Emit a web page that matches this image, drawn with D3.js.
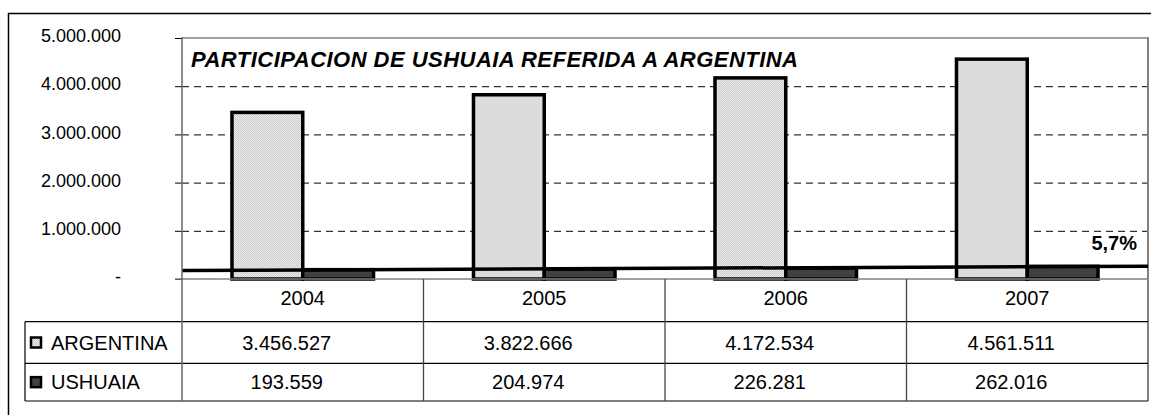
<!DOCTYPE html>
<html>
<head>
<meta charset="utf-8">
<script src="https://cdn.jsdelivr.net/npm/d3@7"></script>
<style>
body{margin:0;background:#fff;}
text{font-family:Arial,"Liberation Sans",sans-serif;fill:#000;}
</style>
</head>
<body>
<div id="chart"></div>
<script>

// data
var years = ["2004", "2005", "2006", "2007"];
var series_names = ["ARGENTINA", "USHUAIA"];
var argentina = [3456527, 3822666, 4172534, 4561511];
var ushuaia = [193559, 204974, 226281, 262016];
var y_ticks = [0, 1000000, 2000000, 3000000, 4000000, 5000000];
var chart_title = "PARTICIPACION DE USHUAIA REFERIDA A ARGENTINA";


var W = 1151, H = 415;
var plot = {left: 182, right: 1148, top: 38, bottom: 279};
var rows = [279, 321.7, 363.3, 401];   // table row edges
var table_left = 25;

var es = d3.formatLocale({decimal: ",", thousands: ".", grouping: [3], currency: ["", ""]});
var fmt_num = es.format(",d");
var fmt_pct = es.format(".1%");


function draw_chart(){
	var svg = d3.select("#chart").append("svg")
		.attr("width", W).attr("height", H);

	var defs = svg.append("defs");
	// light dotted fill for argentina bars
	var pat = defs.append("pattern").attr("id", "dots")
		.attr("width", 2).attr("height", 2)
		.attr("patternUnits", "userSpaceOnUse");
	pat.append("rect").attr("width", 2).attr("height", 2).attr("fill", "#e8e8e8");
	pat.append("rect").attr("width", 1).attr("height", 1).attr("fill", "#d0d0d0");
	pat.append("rect").attr("x", 1).attr("y", 1).attr("width", 1).attr("height", 1).attr("fill", "#d0d0d0");

	var fills = {"ARGENTINA": "url(#dots)", "USHUAIA": "#404040"};

	// outer frame
	svg.append("rect")
		.attr("x", 8.5).attr("y", 13.5)
		.attr("width", W).attr("height", H)
		.attr("fill", "none").attr("stroke", "#000").attr("stroke-width", 1.5);

	var x0 = d3.scaleBand().domain(years).range([plot.left, plot.right]);
	var bw = x0.bandwidth();
	var x1 = d3.scaleBand().domain(series_names).range([bw * 0.207, bw * 0.793]);
	var y = d3.scaleLinear().domain([0, 5000000]).range([plot.bottom, plot.top]);

	// dashed gridlines
	svg.append("g")
		.attr("transform", "translate(" + plot.left + ",0)")
		.call(d3.axisLeft(y).tickValues(y_ticks.slice(1, -1))
			.tickSize(-(plot.right - plot.left)).tickFormat(""))
		.call(function(g){
			g.select(".domain").remove();
			g.selectAll("line").attr("stroke", "#000").attr("stroke-dasharray", "7,5");
		});

	// plot top border and right border
	svg.append("line")
		.attr("x1", plot.left).attr("x2", plot.right)
		.attr("y1", plot.top).attr("y2", plot.top)
		.attr("stroke", "#808080").attr("stroke-width", 1.5);
	svg.append("line")
		.attr("x1", plot.right).attr("x2", plot.right)
		.attr("y1", plot.top - 0.7).attr("y2", rows[3])
		.attr("stroke", "#808080").attr("stroke-width", 2);

	// y axis ticks + labels
	svg.append("g")
		.attr("transform", "translate(" + plot.left + ",0)")
		.call(d3.axisLeft(y).tickValues(y_ticks).tickSize(7).tickPadding(54)
			.tickFormat(function(d){ return d === 0 ? "-" : fmt_num(d); }))
		.call(function(g){
			g.select(".domain").remove();
			g.selectAll("line").attr("stroke", "#000");
			g.selectAll("text")
				.attr("font-size", 18)
				.attr("font-family", "Arial, 'Liberation Sans', sans-serif")
				.attr("fill", "#000")
				.attr("dy", "0.2em");
		});

	// bars
	var groups = svg.append("g").selectAll("g")
		.data(years)
		.enter().append("g")
		.attr("transform", function(d){ return "translate(" + x0(d) + ",0)"; });

	groups.selectAll("rect")
		.data(function(d, i){
			return [{name: "ARGENTINA", value: argentina[i]}, {name: "USHUAIA", value: ushuaia[i]}];
		})
		.enter().append("rect")
		.attr("x", function(d){ return x1(d.name); })
		.attr("width", x1.bandwidth())
		.attr("y", function(d){ return y(d.value); })
		.attr("height", function(d){ return plot.bottom - y(d.value); })
		.attr("fill", function(d){ return fills[d.name]; })
		.attr("stroke", "#000")
		.attr("stroke-width", 3.5);

	// linear trend of ushuaia, stretched half a category each side
	var n = ushuaia.length;
	var mx = d3.mean(ushuaia, function(d, i){ return i; });
	var my = d3.mean(ushuaia);
	var sxy = d3.sum(ushuaia, function(d, i){ return (i - mx) * (d - my); });
	var sxx = d3.sum(ushuaia, function(d, i){ return (i - mx) * (i - mx); });
	var slope = sxy / sxx;
	var ends = [-0.5, n - 0.5];
	var xi = d3.scaleLinear().domain([-0.5, n - 0.5]).range([plot.left, plot.right]);
	svg.append("path")
		.datum(ends)
		.attr("fill", "none")
		.attr("stroke", "#000")
		.attr("stroke-width", 3.5)
		.attr("d", d3.line()
			.x(function(d){ return xi(d); })
			.y(function(d){ return y(my + slope * (d - mx)); }));

	// share of ushuaia in the last year
	svg.append("text")
		.attr("x", 1137).attr("y", 250)
		.attr("text-anchor", "end")
		.attr("font-size", 20)
		.attr("font-weight", "bold")
		.text(fmt_pct(ushuaia[n - 1] / argentina[n - 1]));

	// title
	svg.append("text")
		.attr("x", 191).attr("y", 67)
		.attr("font-size", 22)
		.attr("font-weight", "bold")
		.attr("font-style", "italic")
		.attr("textLength", 607)
		.attr("lengthAdjust", "spacing")
		.text(chart_title);

	draw_table(svg, x0);

	// left axis line, drawn last so it sits over the table
	svg.append("line")
		.attr("x1", plot.left).attr("x2", plot.left)
		.attr("y1", plot.top - 0.7).attr("y2", rows[3])
		.attr("stroke", "#666").attr("stroke-width", 1.5);
}


function draw_table(svg, x0){
	// zero line / header top
	svg.append("line")
		.attr("x1", plot.left - 7).attr("x2", plot.right)
		.attr("y1", rows[0]).attr("y2", rows[0])
		.attr("stroke", "#808080").attr("stroke-width", 1.5);

	// row lines
	svg.selectAll(".rowline")
		.data(rows.slice(1))
		.enter().append("line")
		.attr("x1", table_left).attr("x2", plot.right)
		.attr("y1", function(d){ return d; }).attr("y2", function(d){ return d; })
		.attr("stroke", "#000").attr("stroke-width", 1.2);

	svg.append("line")
		.attr("x1", table_left).attr("x2", table_left)
		.attr("y1", rows[1]).attr("y2", rows[3])
		.attr("stroke", "#000").attr("stroke-width", 1.2);

	// column separators
	svg.selectAll(".colline")
		.data(years.slice(1))
		.enter().append("line")
		.attr("x1", function(d){ return x0(d); }).attr("x2", function(d){ return x0(d); })
		.attr("y1", rows[0]).attr("y2", rows[3])
		.attr("stroke", "#444").attr("stroke-width", 1.3);

	var cx = function(d){ return x0(d) + x0.bandwidth() / 2; };

	// year header
	svg.selectAll(".yr")
		.data(years)
		.enter().append("text")
		.attr("x", cx)
		.attr("y", (rows[0] + rows[1]) / 2 - 2)
		.attr("dy", "0.35em")
		.attr("text-anchor", "middle")
		.attr("font-size", 20)
		.text(function(d){ return d; });

	var table_vals = [argentina, ushuaia];
	var sym_fill = ["url(#dots)", "#404040"];

	series_names.forEach(function(name, r){
		var mid = (rows[r + 1] + rows[r + 2]) / 2;
		svg.append("rect")
			.attr("x", 31).attr("y", mid - 5)
			.attr("width", 10).attr("height", 10)
			.attr("fill", sym_fill[r])
			.attr("stroke", "#000").attr("stroke-width", 2.5);
		svg.append("text")
			.attr("x", 51).attr("y", mid)
			.attr("dy", "0.35em")
			.attr("font-size", 20)
			.text(name);
		// values sit a little left of the column centre, as in the source
		svg.selectAll(".v" + r)
			.data(years)
			.enter().append("text")
			.attr("x", function(d){ return cx(d) - 16; })
			.attr("y", mid)
			.attr("dy", "0.35em")
			.attr("text-anchor", "middle")
			.attr("font-size", 20)
			.text(function(d, i){ return fmt_num(table_vals[r][i]); });
	});
}

window.onload = draw_chart;
</script>
</body>
</html>
